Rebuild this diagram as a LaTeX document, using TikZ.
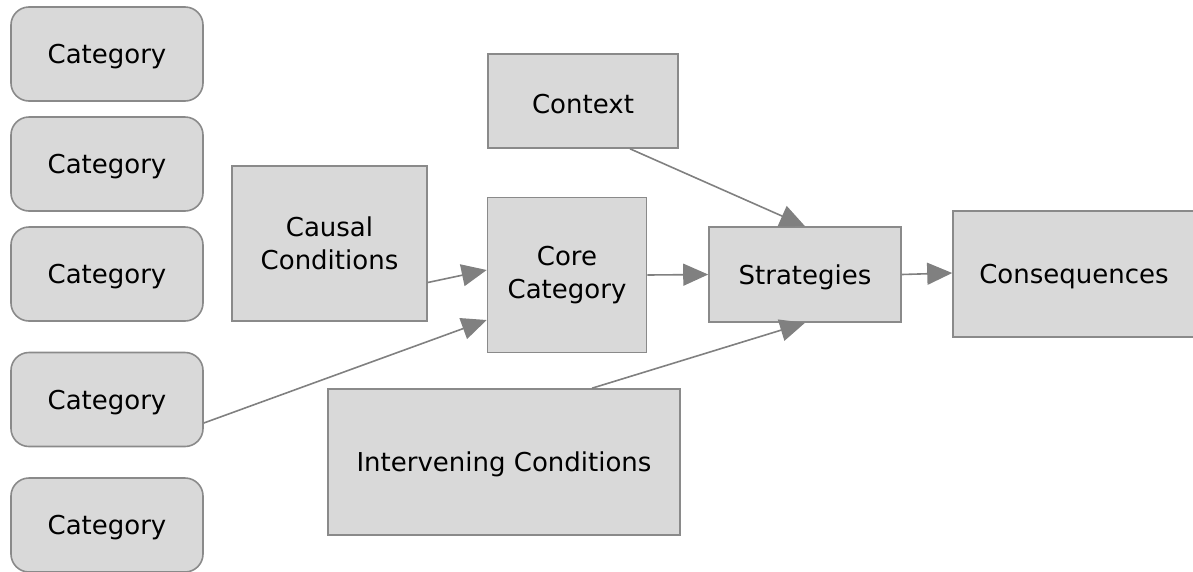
\documentclass[tikz,border=0pt]{standalone}
\usepackage{fontspec}
\setmainfont{DejaVu Sans}
\usetikzlibrary{arrows.meta}
\definecolor{boxfill}{HTML}{D9D9D9}
\definecolor{boxline}{HTML}{8A8A8A}
\definecolor{arr}{HTML}{808080}
\begin{document}
\begin{tikzpicture}[x=1pt,y=1pt,
  box/.style={draw=boxline,fill=boxfill,line width=1.6pt,inner sep=0pt,align=center,
    font=\fontsize{26}{33}\selectfont,text height=25pt},
  twoline/.style={text height={}},
  cat/.style={box,rounded corners=18pt,minimum width=192pt,minimum height=94pt},
  conn/.style={draw=arr,line width=1.6pt,-{Triangle[length=25pt,width=22pt]}}]
\useasboundingbox (0,0) rectangle (1193,-571);
\node[cat] (c1) at (107,-54) {Category};
\node[cat] (c2) at (107,-164) {Category};
\node[cat] (c3) at (107,-274) {Category};
\node[cat] (c4) at (107,-399.5) {Category};
\node[cat] (c5) at (107,-525) {Category};
\node[box,minimum width=190pt,minimum height=94pt] (context) at (583,-101) {Context};
\node[box,twoline,minimum width=195pt,minimum height=155pt] (causal) at (329.5,-243.5) {Causal\\Conditions};
\node[box,twoline,minimum width=159pt,minimum height=155pt] (core) at (567,-275) {Core\\Category};
\node[box,minimum width=192pt,minimum height=95pt] (strat) at (805,-274.5) {Strategies};
\node[box,minimum width=242pt,minimum height=126pt] (cons) at (1074,-274) {Consequences};
\node[box,minimum width=352pt,minimum height=146pt] (interv) at (504,-462) {Intervening Conditions};
\draw[conn] ([yshift=-39pt]causal.east) -- ([yshift=5pt]core.west);
\draw[conn] ([yshift=-23.5pt]c4.east) -- ([yshift=-45pt]core.west);
\draw[conn] (core.east) -- (strat.west);
\draw[conn] ([xshift=47pt]context.south) -- (strat.north);
\draw[conn] ([xshift=88pt]interv.north) -- (strat.south);
\draw[conn] (strat.east) -- ([yshift=1pt]cons.west);
\end{tikzpicture}
\end{document}
